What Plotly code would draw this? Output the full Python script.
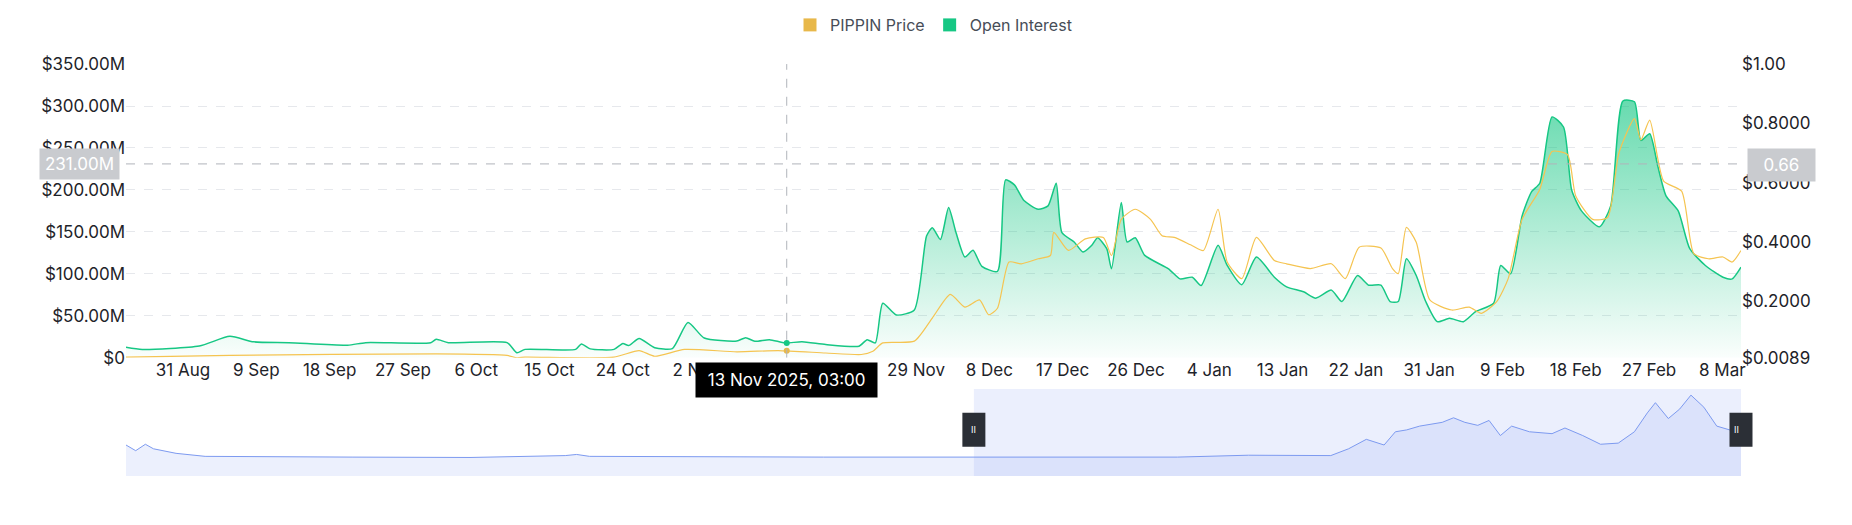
import plotly.graph_objects as go

oi_dates = ["2025-08-24","2025-08-26","2025-09-02","2025-09-05 18:00","2025-09-08 16:00","2025-09-13","2025-09-20 05:00","2025-09-22 10:00","2025-09-30 10:00","2025-10-01 02:00","2025-10-02 14:00","2025-10-09 19:00","2025-10-11","2025-10-12","2025-10-18 05:00","2025-10-18 22:00","2025-10-20","2025-10-22 22:00","2025-10-24","2025-10-24 17:00","2025-10-26","2025-10-27 22:00","2025-10-30 02:00","2025-11-01","2025-11-03","2025-11-07","2025-11-08 02:00","2025-11-09 05:00","2025-11-11","2025-11-12 22:00","2025-11-15","2025-11-17 22:00","2025-11-22","2025-11-23","2025-11-24","2025-11-24 22:00","2025-11-26 14:00","2025-11-28 19:00","2025-11-30 07:00","2025-12-01","2025-12-02","2025-12-03","2025-12-03 22:00","2025-12-05","2025-12-06","2025-12-07 02:00","2025-12-09","2025-12-10","2025-12-11 02:00","2025-12-12 07:00","2025-12-14","2025-12-15 05:00","2025-12-16 05:00","2025-12-16 22:00","2025-12-18 10:00","2025-12-19 12:00","2025-12-20 14:00","2025-12-21 07:00","2025-12-22 10:00","2025-12-23","2025-12-24 05:00","2025-12-24 22:00","2025-12-25 22:00","2025-12-27 02:00","2025-12-30","2025-12-31 10:00","2026-01-01 22:00","2026-01-03","2026-01-05 02:00","2026-01-06 05:00","2026-01-08","2026-01-09 19:00","2026-01-12","2026-01-13 12:00","2026-01-15 14:00","2026-01-17 02:00","2026-01-19","2026-01-20 07:00","2026-01-22 05:00","2026-01-23 14:00","2026-01-25 02:00","2026-01-26 05:00","2026-01-27 05:00","2026-01-28 05:00","2026-01-29 10:00","2026-01-30 14:00","2026-02-01","2026-02-02 12:00","2026-02-04 05:00","2026-02-05 17:00","2026-02-07 22:00","2026-02-08 19:00","2026-02-10","2026-02-11 10:00","2026-02-12 14:00","2026-02-13 14:00","2026-02-15 02:00","2026-02-16 12:00","2026-02-17 12:00","2026-02-18 17:00","2026-02-20 22:00","2026-02-22 07:00","2026-02-23 19:00","2026-02-25 05:00","2026-02-26","2026-02-27 02:00","2026-02-28 02:00","2026-03-01 02:00","2026-03-02 14:00","2026-03-04","2026-03-05 22:00","2026-03-08 02:00","2026-03-09 05:00","2026-03-10 07:00"]
oi_values_m = [12.6,10,14,25.5,19,18,15,18,18,22,18,18,6,10,10,16.5,10.6,10,17,14.5,23,12,11,42,23.5,20,24,19.6,21.6,17.7,19,15.7,13.8,21.6,17.7,65,51,57,145,155,141,179,149,120,128,109,103,212,206,187,177,181,208,149,138,126,134,143,130,106,185,138,143,122,106,94,96,86,134,110,87,120,96,84.5,78.6,71,80.6,67,98,86.5,86.5,67,67,118,98,67,43,47,43,55,65,110,100,169,198,208,287,275,200,175,156,181,306,305,259,267,228,193,175,130,110,96,94,108]

price_dates = ["2025-08-24","2025-09-05 18:00","2025-10-01 02:00","2025-10-09 19:00","2025-10-11","2025-10-12","2025-10-22 22:00","2025-10-26","2025-10-27 22:00","2025-10-31 14:00","2025-11-07","2025-11-12 02:00","2025-11-17 22:00","2025-11-22 07:00","2025-11-23 17:00","2025-11-24 22:00","2025-11-28 19:00","2025-12-01","2025-12-03 05:00","2025-12-05","2025-12-06 19:00","2025-12-07 22:00","2025-12-09","2025-12-10 10:00","2025-12-11 22:00","2025-12-14","2025-12-15 12:00","2025-12-15 22:00","2025-12-17 17:00","2025-12-19 19:00","2025-12-22","2025-12-23","2025-12-24 05:00","2025-12-25 22:00","2025-12-27 19:00","2025-12-29 05:00","2025-12-30 17:00","2026-01-01 22:00","2026-01-03 07:00","2026-01-05 02:00","2026-01-06 05:00","2026-01-08","2026-01-09 19:00","2026-01-12","2026-01-13 12:00","2026-01-16 10:00","2026-01-19","2026-01-20 17:00","2026-01-22 10:00","2026-01-25 02:00","2026-01-26 12:00","2026-01-27 05:00","2026-01-28 05:00","2026-01-29 10:00","2026-01-31 02:00","2026-02-02 19:00","2026-02-04 22:00","2026-02-06 10:00","2026-02-08 07:00","2026-02-09 17:00","2026-02-11 10:00","2026-02-13 14:00","2026-02-15 02:00","2026-02-17","2026-02-18","2026-02-20 02:00","2026-02-21 22:00","2026-02-23 07:00","2026-02-25 05:00","2026-02-26","2026-02-27 02:00","2026-02-28 19:00","2026-03-03","2026-03-04 12:00","2026-03-06 07:00","2026-03-08 02:00","2026-03-09 05:00","2026-03-10 07:00"]
price_values = [0.011,0.017,0.022,0.017,0.009,0.011,0.011,0.033,0.014,0.037,0.029,0.033,0.025,0.02,0.031,0.059,0.065,0.143,0.223,0.18,0.204,0.154,0.176,0.332,0.326,0.343,0.354,0.432,0.371,0.41,0.415,0.354,0.476,0.51,0.476,0.421,0.415,0.387,0.371,0.51,0.332,0.276,0.415,0.337,0.326,0.31,0.326,0.276,0.382,0.379,0.31,0.293,0.449,0.399,0.204,0.17,0.18,0.159,0.198,0.276,0.476,0.577,0.705,0.694,0.555,0.476,0.482,0.699,0.816,0.744,0.811,0.605,0.571,0.36,0.343,0.349,0.332,0.371]

x_tick_dates = ["2025-08-31","2025-09-09","2025-09-18","2025-09-27","2025-10-06","2025-10-15","2025-10-24","2025-11-02","2025-11-11","2025-11-20","2025-11-29","2025-12-08","2025-12-17","2025-12-26","2026-01-04","2026-01-13","2026-01-22","2026-01-31","2026-02-09","2026-02-18","2026-02-27","2026-03-08"]
# "11 Nov" and "20 Nov" are hidden behind the crosshair date label in the reference
x_tick_labels = ["31 Aug","9 Sep","18 Sep","27 Sep","6 Oct","15 Oct","24 Oct","2 Nov","","","29 Nov","8 Dec","17 Dec","26 Dec","4 Jan","13 Jan","22 Jan","31 Jan","9 Feb","18 Feb","27 Feb","8 Mar"]
left_ticks = [0,50,100,150,200,250,300,350]
left_labels = ["$0","$50.00M","$100.00M","$150.00M","$200.00M","$250.00M","$300.00M","$350.00M"]
right_ticks = [0.0089,0.2,0.4,0.6,0.8,1.0]
right_labels = ["$0.0089","$0.2000","$0.4000","$0.6000","$0.8000","$1.00"]

nav_pos = [0,0.6,1.2,1.7,3.1,4.9,14,21.3,27.2,27.9,28.7,43.2,65.1,68,69.5,74.6,75.7,76.8,77.9,78.6,79.3,80.1,80.8,81.5,82.2,82.9,83.7,84.4,85.1,85.8,86.9,88.3,89.1,90.2,91.3,92.4,93.4,94.2,94.7,95.5,96.2,96.9,97.7,98.5,99.3,100]
nav_values = [82,67,84,72,60,52,50,49,54,57,52,50,50,52,55,54,72,97,82,117,122,132,137,142,154,142,134,147,107,132,117,112,127,107,84,87,117,167,194,152,177,214,182,132,122,127]
nav_window = [0.525, 1.0]

crosshair_date = "2025-11-13 03:00"
crosshair_oi = 231.0
crosshair_price = 0.66
crosshair_oi_point = 17.7
crosshair_price_point = 0.033

GREEN = "#16c784"
YELLOW = "#f5c451"
FONT = "Inter, Roboto, sans-serif"

fig = go.Figure()
fig.add_trace(go.Scatter(x=oi_dates, y=oi_values_m, mode="lines", line=dict(color=GREEN, width=1.5, shape="spline", smoothing=0.6),
    fill="tozeroy", fillgradient=dict(type="vertical", colorscale=[[0, "rgba(22,199,132,0.02)"], [1, "rgba(22,199,132,0.65)"]]),
    showlegend=False, yaxis="y", xaxis="x", hoverinfo="skip"))
fig.add_trace(go.Scatter(x=price_dates, y=price_values, mode="lines", line=dict(color=YELLOW, width=1.2, shape="spline", smoothing=0.6),
    showlegend=False, yaxis="y2", xaxis="x", hoverinfo="skip"))
fig.add_trace(go.Scatter(x=[None], y=[None], mode="markers", marker=dict(symbol="square", size=13, color="#e8b84a"), name="PIPPIN Price"))
fig.add_trace(go.Scatter(x=[None], y=[None], mode="markers", marker=dict(symbol="square", size=13, color=GREEN), name="Open Interest"))
fig.add_trace(go.Scatter(x=[crosshair_date], y=[crosshair_oi_point], mode="markers", marker=dict(color=GREEN, size=6), showlegend=False, hoverinfo="skip"))
fig.add_trace(go.Scatter(x=[crosshair_date], y=[crosshair_price_point], mode="markers", marker=dict(color="#e8b84a", size=6), showlegend=False, hoverinfo="skip", yaxis="y2"))
fig.add_trace(go.Scatter(x=nav_pos, y=nav_values, mode="lines", line=dict(color="#7d9af0", width=1), fill="tozeroy",
    fillcolor="rgba(125,154,240,0.15)", xaxis="x2", yaxis="y3", showlegend=False, hoverinfo="skip"))

grid = dict(showgrid=True, gridcolor="#e6e8ec", griddash="dash", gridwidth=1)
fig.update_layout(
    width=1852, height=525, plot_bgcolor="white", paper_bgcolor="white",
    margin=dict(l=118, r=119, t=47, b=57),
    font=dict(family=FONT, size=17, color="#1e2329"),
    legend=dict(orientation="h", x=0.5, xanchor="center", y=1.0, yanchor="top", yref="container", font=dict(size=16, color="#474d57")),
    xaxis=dict(type="date", range=["2025-08-24", "2026-03-10 07:00"], tickvals=x_tick_dates, ticktext=x_tick_labels,
               showgrid=False, showline=False, ticks="", domain=[0, 1], anchor="y", tickfont=dict(size=17)),
    yaxis=dict(domain=[0.287, 1], range=[0, 350], tickvals=left_ticks, ticktext=left_labels, zeroline=False, **grid, tickfont=dict(size=17)),
    yaxis2=dict(overlaying="y", side="right", range=[0.0089, 1.0], tickvals=right_ticks, ticktext=right_labels, showgrid=False, zeroline=False, tickfont=dict(size=17)),
    xaxis2=dict(domain=[0, 1], range=[0, 100], anchor="y3", visible=False),
    yaxis3=dict(domain=[0, 0.211], range=[0, 230], visible=False),
    hovermode=False,
)

fig.add_shape(type="rect", xref="paper", yref="y3", x0=nav_window[0], x1=nav_window[1], y0=0, y1=230,
              fillcolor="rgba(90,120,240,0.12)", line_width=0, layer="below")
for hx in nav_window:
    fig.add_shape(type="rect", xref="paper", yref="y3", x0=hx - 0.0065, x1=hx + 0.0065, y0=80, y1=165, fillcolor="#2b2f36",
                  line=dict(color="#2b2f36"), layer="above")
    fig.add_annotation(xref="paper", yref="y3", x=hx, y=122, text="II", showarrow=False, font=dict(color="white", size=9))

fig.add_shape(type="line", xref="x", yref="y", x0=crosshair_date, x1=crosshair_date, y0=0, y1=350, line=dict(color="#b0b4ba", width=1, dash="dash"))
fig.add_shape(type="line", xref="paper", yref="y", x0=0, x1=1, y0=crosshair_oi, y1=crosshair_oi, line=dict(color="#b0b4ba", width=1, dash="dash"))
fig.add_annotation(xref="paper", yref="y", x=0, xanchor="right", y=crosshair_oi, text="231.00M", showarrow=False,
                   bgcolor="#c9cbcf", font=dict(color="white", size=17), borderpad=5, xshift=-6)
fig.add_annotation(xref="paper", yref="y2", x=1, xanchor="left", y=crosshair_price, text="  0.66  ", showarrow=False,
                   bgcolor="#c9cbcf", font=dict(color="white", size=17), borderpad=6, xshift=6)
fig.add_annotation(xref="x", yref="paper", x=crosshair_date, y=0.287, yanchor="top", yshift=-4, text=" 13 Nov 2025, 03:00 ", showarrow=False,
                   bgcolor="black", font=dict(color="white", size=17), borderpad=7)

fig.write_html("out.html")
